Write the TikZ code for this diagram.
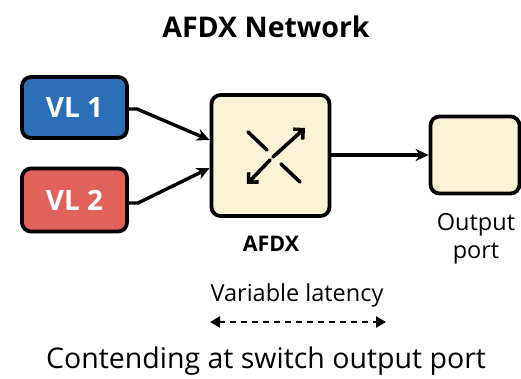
\documentclass[tikz,border=0pt]{standalone}
\usepackage{fontspec}
\setmainfont{Open Sans}
\usetikzlibrary{arrows.meta}
\definecolor{vlblue}{HTML}{2C6FB7}
\definecolor{vlred}{HTML}{E0625A}
\definecolor{cream}{HTML}{FCF3D6}
\begin{document}
\begin{tikzpicture}[x=1pt,y=-1pt,
  box/.style={draw=black,line width=3.8pt,rounded corners=9pt,inner sep=0pt},
  conn/.style={line width=3.4pt,-{Stealth[length=13pt,width=12pt]}},
  icon/.style={line width=3.6pt,line cap=round}]
\useasboundingbox (0,0) rectangle (521,379);
\node[font=\bfseries\fontsize{28.5}{32}\selectfont] (title) at (266,27) {AFDX Network};
\node[box,fill=vlblue,minimum width=105pt,minimum height=61pt,text=white,font=\bfseries\fontsize{28}{32}\selectfont] (vl1) at (74.5,107.5) {VL 1};
\node[box,fill=vlred,minimum width=105pt,minimum height=63pt,text=white,font=\bfseries\fontsize{28}{32}\selectfont] (vl2) at (74.5,200) {VL 2};
\node[box,fill=cream,minimum width=118pt,minimum height=121pt] (sw) at (270.5,155.5) {};
\node[box,fill=cream,minimum width=89pt,minimum height=77pt] (out) at (475,155) {};
\node[font=\fontsize{21.5}{25}\selectfont\bfseries,anchor=center] (swl) at (271,244) {AFDX};
\node[font=\fontsize{23.5}{28}\selectfont,align=center] (outl) at (476,239) {Output\\port};
\coordinate (v1a) at (137,109);
\coordinate (v2a) at (138,203);
\draw[conn] (vl1.east |- v1a) -- (v1a) -- (sw.west |- 0,140);
\draw[conn] (vl2.east |- v2a) -- (v2a) -- (sw.west |- 0,168);
\draw[conn] (sw.east |- 0,155) -- (out.west |- 0,155);
% switch icon
\draw[icon] (248,132) -- (267,150);
\draw[icon] (281,164) -- (300,182);
\draw[icon,-{Straight Barb[length=7pt,width=14pt]}] (273,157) -- (305,128);
\draw[icon,-{Straight Barb[length=7pt,width=14pt]}] (270,160) -- (247,184);
\node[font=\fontsize{23.5}{27}\selectfont] (lat) at (297,295) {Variable latency};
\coordinate (la) at (210,322);
\coordinate (lb) at (386,322);
\draw[line width=2.6pt,dash pattern=on 6pt off 5pt,{Triangle[length=10pt,width=11pt]}-{Triangle[length=10pt,width=11pt]}] (la) -- (lb);
\node[font=\fontsize{28.5}{32}\selectfont] (cap) at (266,361) {Contending at switch output port};
\end{tikzpicture}
\end{document}
